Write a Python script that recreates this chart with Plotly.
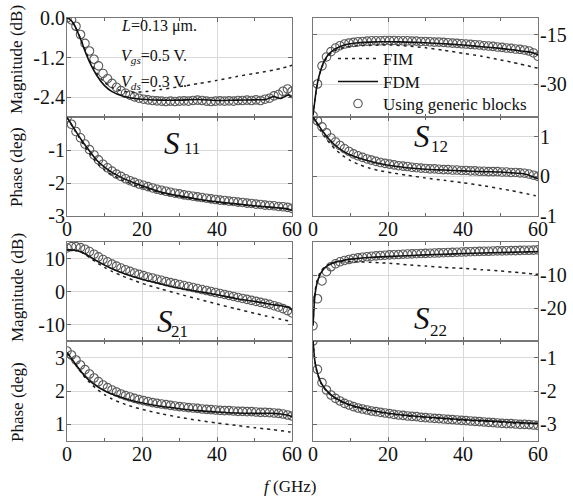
import plotly.graph_objects as go

W, H = 573, 498
FONT = "Liberation Serif"

# ---------------- data ----------------
f_line = [0, 0.5, 1, 2, 3, 4, 5, 6, 8, 10, 12, 15, 18, 21, 25, 30, 35, 40, 45, 50, 53, 55, 57, 59, 60]
f_circ = [0, 1.2, 2.4, 3.6, 4.8, 6, 7.2, 8.4, 9.6, 10.8, 12, 13.2, 14.4, 15.6, 16.8, 18, 19.2, 20.4,
          21.6, 22.8, 24, 25.2, 26.4, 27.6, 28.8, 30, 31.2, 32.4, 33.6, 34.8, 36, 37.2, 38.4, 39.6,
          40.8, 42, 43.2, 44.4, 45.6, 46.8, 48, 49.2, 50.4, 51.6, 52.8, 54, 55.2, 56.4, 57.6, 58.8, 60]

# S11 magnitude (dB)
s11_mag_fdm = [0.0, -0.02, -0.06, -0.22, -0.47, -0.75, -1.06, -1.33, -1.75, -2.05, -2.23, -2.37, -2.44,
               -2.47, -2.49, -2.49, -2.47, -2.5, -2.49, -2.48, -2.47, -2.38, -2.44, -2.33, -2.42]
s11_mag_fim = [0.0, -0.02, -0.06, -0.22, -0.46, -0.73, -1.02, -1.28, -1.68, -1.95, -2.11, -2.22, -2.25,
               -2.23, -2.17, -2.08, -1.99, -1.89, -1.78, -1.68, -1.62, -1.58, -1.53, -1.47, -1.43]
s11_mag_gb = [0.0, -0.06, -0.25, -0.5, -0.77, -1.0, -1.25, -1.45, -1.68, -1.84, -1.98, -2.1, -2.2, -2.28,
              -2.34, -2.39, -2.43, -2.46, -2.48, -2.5, -2.51, -2.52, -2.53, -2.52, -2.53, -2.52, -2.51,
              -2.52, -2.5, -2.49, -2.5, -2.52, -2.53, -2.52, -2.51, -2.52, -2.51, -2.52, -2.5, -2.5,
              -2.49, -2.5, -2.48, -2.5, -2.46, -2.43, -2.36, -2.32, -2.22, -2.15, -2.22]

# S11 phase (deg)
s11_ph_fdm = [-0.02, -0.1, -0.19, -0.37, -0.55, -0.72, -0.88, -1.03, -1.32, -1.52, -1.68, -1.86, -2.0,
              -2.12, -2.27, -2.39, -2.49, -2.57, -2.63, -2.69, -2.72, -2.74, -2.76, -2.79, -2.83]
s11_ph_fim = [-0.02, -0.1, -0.2, -0.39, -0.58, -0.77, -0.94, -1.1, -1.4, -1.6, -1.75, -1.93, -2.06,
              -2.17, -2.3, -2.42, -2.51, -2.59, -2.65, -2.7, -2.73, -2.75, -2.77, -2.8, -2.84]
s11_ph_gb = [-0.02, -0.22, -0.44, -0.63, -0.82, -0.99, -1.15, -1.3, -1.43, -1.54, -1.64, -1.73, -1.8,
             -1.87, -1.93, -1.98, -2.03, -2.07, -2.11, -2.15, -2.19, -2.22, -2.25, -2.28, -2.31, -2.33,
             -2.36, -2.38, -2.4, -2.42, -2.44, -2.46, -2.48, -2.5, -2.52, -2.53, -2.55, -2.56, -2.58,
             -2.59, -2.61, -2.62, -2.64, -2.65, -2.67, -2.68, -2.69, -2.71, -2.72, -2.74, -2.77]

# S12 magnitude (dB)
s12_mag_fdm = [-39.5, -35, -30.8, -26, -23, -21.2, -20.1, -19.3, -18.3, -17.8, -17.5, -17.3, -17.2,
               -17.2, -17.3, -17.5, -17.8, -18.2, -18.7, -19.2, -19.6, -19.9, -20.2, -20.7, -21.2]
s12_mag_fim = [-39.5, -35, -31, -26.2, -23.3, -21.6, -20.5, -19.8, -19.0, -18.6, -18.4, -18.3, -18.2,
               -18.2, -18.5, -19.0, -19.8, -20.7, -21.6, -22.7, -23.4, -23.9, -24.4, -25.0, -25.2]
s12_mag_gb = [-39.6, -30, -24.5, -21.8, -20.2, -19.1, -18.4, -17.9, -17.6, -17.4, -17.2, -17.1, -17.0,
              -16.9, -16.9, -16.9, -16.8, -16.8, -16.8, -16.9, -16.9, -16.9, -17.0, -17.0, -17.1, -17.1,
              -17.2, -17.3, -17.3, -17.4, -17.5, -17.6, -17.7, -17.8, -17.9, -18.0, -18.1, -18.2, -18.4,
              -18.5, -18.6, -18.8, -18.9, -19.1, -19.2, -19.4, -19.5, -19.7, -20.0, -20.6, -21.6]

# S12 phase (deg)
s12_ph_fdm = [1.5, 1.43, 1.36, 1.22, 1.09, 0.97, 0.87, 0.78, 0.64, 0.54, 0.47, 0.39, 0.32, 0.27, 0.22,
              0.18, 0.16, 0.14, 0.12, 0.11, 0.09, 0.08, 0.05, -0.02, -0.06]
s12_ph_fim = [1.5, 1.41, 1.33, 1.17, 1.02, 0.89, 0.78, 0.68, 0.52, 0.4, 0.31, 0.21, 0.14, 0.09, 0.03,
              -0.04, -0.1, -0.16, -0.23, -0.31, -0.36, -0.4, -0.44, -0.48, -0.5]
s12_ph_gb = [1.5, 1.4, 1.25, 1.1, 0.97, 0.87, 0.78, 0.7, 0.63, 0.57, 0.52, 0.48, 0.44, 0.41, 0.38, 0.35,
             0.33, 0.31, 0.29, 0.27, 0.26, 0.25, 0.23, 0.22, 0.21, 0.2, 0.19, 0.19, 0.18, 0.17, 0.17,
             0.16, 0.16, 0.15, 0.15, 0.14, 0.14, 0.13, 0.13, 0.12, 0.12, 0.12, 0.11, 0.11, 0.1, 0.1,
             0.09, 0.08, 0.06, 0.03, 0.0]

# S21 magnitude (dB)
s21_mag_fdm = [12.6, 12.6, 12.6, 12.5, 12.3, 11.9, 11.3, 10.6, 9.2, 8.0, 6.9, 5.5, 4.4, 3.4, 2.3, 1.0,
               0.0, -1.0, -2.1, -3.0, -3.6, -4.0, -4.3, -4.8, -5.6]
s21_mag_fim = [12.6, 12.6, 12.6, 12.5, 12.2, 11.8, 11.1, 10.3, 8.7, 7.3, 6.1, 4.6, 3.3, 2.1, 0.8, -0.8,
               -2.3, -3.8, -5.2, -6.6, -7.4, -7.9, -8.4, -8.9, -9.2]
s21_mag_gb = [13.2, 13.6, 13.6, 13.3, 12.8, 12.1, 11.3, 10.5, 9.7, 9.0, 8.3, 7.7, 7.1, 6.6, 6.1, 5.6, 5.2,
              4.8, 4.4, 4.1, 3.7, 3.4, 3.0, 2.7, 2.4, 2.1, 1.8, 1.5, 1.2, 0.9, 0.6, 0.3, 0.0, -0.3, -0.6,
              -0.9, -1.2, -1.5, -1.8, -2.1, -2.4, -2.7, -3.0, -3.3, -3.6, -3.9, -4.3, -4.7, -5.2, -5.8, -6.5]

# S21 phase (deg)
s21_ph_fdm = [3.15, 3.08, 3.0, 2.85, 2.7, 2.55, 2.42, 2.31, 2.14, 2.01, 1.91, 1.79, 1.69, 1.62, 1.54,
              1.47, 1.41, 1.37, 1.34, 1.33, 1.33, 1.33, 1.31, 1.27, 1.23]
s21_ph_fim = [3.15, 3.07, 2.99, 2.83, 2.67, 2.52, 2.38, 2.26, 2.05, 1.89, 1.76, 1.62, 1.51, 1.42, 1.32,
              1.21, 1.12, 1.04, 0.97, 0.9, 0.86, 0.84, 0.81, 0.78, 0.76]
s21_ph_gb = [3.2, 3.08, 2.93, 2.78, 2.64, 2.51, 2.39, 2.28, 2.18, 2.1, 2.03, 1.97, 1.91, 1.86, 1.82, 1.78,
             1.74, 1.71, 1.68, 1.65, 1.63, 1.61, 1.59, 1.57, 1.55, 1.53, 1.52, 1.5, 1.49, 1.48, 1.46,
             1.45, 1.44, 1.43, 1.42, 1.41, 1.41, 1.4, 1.39, 1.39, 1.38, 1.38, 1.37, 1.36, 1.36, 1.35,
             1.34, 1.33, 1.31, 1.28, 1.25]

# S22 magnitude (dB)
s22_mag_fdm = [-25.4, -16.3, -12.8, -9.6, -8.0, -7.1, -6.5, -6.1, -5.6, -5.2, -4.95, -4.7, -4.5, -4.35,
               -4.15, -3.9, -3.7, -3.5, -3.35, -3.2, -3.1, -3.05, -3.0, -2.95, -2.9]
s22_mag_fim = [-25.0, -15.5, -12.0, -9.0, -7.6, -6.9, -6.5, -6.2, -6.0, -5.95, -6.0, -6.1, -6.3, -6.5,
               -6.9, -7.3, -7.7, -8.0, -8.4, -8.8, -9.1, -9.3, -9.5, -9.7, -9.8]
s22_mag_gb = [-25.4, -17.2, -11.8, -9.0, -7.5, -6.6, -6.0, -5.6, -5.3, -5.0, -4.8, -4.6, -4.45, -4.3,
              -4.2, -4.1, -4.0, -3.9, -3.85, -3.8, -3.7, -3.65, -3.6, -3.55, -3.5, -3.45, -3.4, -3.35,
              -3.3, -3.25, -3.2, -3.15, -3.1, -3.05, -3.0, -2.95, -2.9, -2.85, -2.8, -2.8, -2.75, -2.7,
              -2.7, -2.65, -2.6, -2.6, -2.55, -2.5, -2.5, -2.45, -2.4]

# S22 phase (deg)
s22_ph_fdm = [-0.5, -1.1, -1.38, -1.72, -1.9, -2.03, -2.13, -2.21, -2.33, -2.42, -2.49, -2.57, -2.63,
              -2.68, -2.73, -2.78, -2.82, -2.86, -2.89, -2.92, -2.94, -2.95, -2.96, -2.97, -2.98]
s22_ph_fim = [-0.5, -1.12, -1.4, -1.74, -1.92, -2.05, -2.15, -2.23, -2.35, -2.44, -2.51, -2.59, -2.65,
              -2.7, -2.75, -2.8, -2.84, -2.88, -2.91, -2.94, -2.96, -2.97, -2.98, -2.99, -3.0]
s22_ph_gb = [-0.5, -1.35, -1.75, -1.97, -2.12, -2.22, -2.3, -2.37, -2.42, -2.47, -2.51, -2.54, -2.57,
             -2.6, -2.62, -2.64, -2.66, -2.68, -2.7, -2.72, -2.73, -2.75, -2.76, -2.77, -2.79, -2.8,
             -2.81, -2.82, -2.83, -2.84, -2.85, -2.86, -2.87, -2.88, -2.89, -2.9, -2.91, -2.92, -2.93,
             -2.94, -2.95, -2.96, -2.97, -2.98, -2.98, -2.99, -3.0, -3.0, -3.01, -3.02, -3.03]

x_ticks = [0, 20, 40, 60]
panels = [
    # (fdm, fim, gb, y range, y ticks, tick labels, column, row-part)
    (s11_mag_fdm, s11_mag_fim, s11_mag_gb, [-3, 0], [0, -1.2, -2.4], ["0.0", "-1.2", "-2.4"], 0, 0),
    (s11_ph_fdm, s11_ph_fim, s11_ph_gb, [-3, 0], [-1, -2, -3], ["-1", "-2", "-3"], 0, 1),
    (s12_mag_fdm, s12_mag_fim, s12_mag_gb, [-40, -10], [-15, -30], ["-15", "-30"], 1, 0),
    (s12_ph_fdm, s12_ph_fim, s12_ph_gb, [-1, 1.5], [1, 0, -1], ["1", "0", "-1"], 1, 1),
    (s21_mag_fdm, s21_mag_fim, s21_mag_gb, [-15, 15], [10, 0, -10], ["10", "0", "-10"], 0, 2),
    (s21_ph_fdm, s21_ph_fim, s21_ph_gb, [0.5, 3.5], [3, 2, 1], ["3", "2", "1"], 0, 3),
    (s22_mag_fdm, s22_mag_fim, s22_mag_gb, [-30, 0], [-10, -20], ["-10", "-20"], 1, 2),
    (s22_ph_fdm, s22_ph_fim, s22_ph_gb, [-3.5, -0.5], [-1, -2, -3], ["-1", "-2", "-3"], 1, 3),
]

# ---------------- layout geometry (pixels) ----------------
col_px = [(67, 292), (313, 538)]
row_px = [(18, 117), (117, 216), (242, 341), (341, 441)]


def px_x(p):
    return p / W


def px_y(p):
    return 1 - p / H


def legend_box(ypx):
    return dict(x=px_x(333), y=px_y(ypx), xanchor="left", yanchor="middle",
                bgcolor="rgba(0,0,0,0)", borderwidth=0,
                font=dict(size=17, family=FONT, color="#111"), itemwidth=40)


fig = go.Figure()
layout = dict(
    template="none",
    width=W, height=H,
    margin=dict(l=0, r=0, t=0, b=0, pad=0),
    paper_bgcolor="white", plot_bgcolor="white",
    font=dict(family=FONT, size=20, color="#111"),
    showlegend=True,
    legend=legend_box(59),
    legend2=legend_box(82),
    legend3=legend_box(104),
)

for i, (fdm, fim, gb, yr, yt, ytl, col, row) in enumerate(panels):
    n = i + 1
    xa = "x" if n == 1 else f"x{n}"
    ya = "y" if n == 1 else f"y{n}"
    first = i == 0
    fig.add_trace(go.Scatter(x=f_circ, y=gb, mode="markers", xaxis=xa, yaxis=ya,
                             name="Using generic blocks", legend="legend3", showlegend=first,
                             marker=dict(symbol="circle-open", size=8.5, color="#5a5a5a",
                                         line=dict(width=1.1))))
    fig.add_trace(go.Scatter(x=f_line, y=fim, mode="lines", xaxis=xa, yaxis=ya,
                             name="FIM", legend="legend", showlegend=first,
                             line=dict(color="#222", width=1.5, dash="3px,4px", shape="spline",
                                       smoothing=0.6)))
    fig.add_trace(go.Scatter(x=f_line, y=fdm, mode="lines", xaxis=xa, yaxis=ya,
                             name="FDM", legend="legend2", showlegend=first,
                             line=dict(color="#111", width=1.6, shape="spline", smoothing=0.6)))

    x0, x1 = col_px[col]
    y0, y1 = row_px[row]
    phase = row in (1, 3)
    xkey = "xaxis" if n == 1 else f"xaxis{n}"
    ykey = "yaxis" if n == 1 else f"yaxis{n}"
    layout[xkey] = dict(
        domain=[px_x(x0), px_x(x1)], anchor=ya, range=[0, 60], automargin=False,
        tickmode="array", tickvals=x_ticks, ticktext=[str(v) for v in x_ticks],
        showticklabels=phase, ticks="inside", ticklen=4, tickcolor="#666",
        showline=True, linecolor="#777", linewidth=1, mirror="ticks",
        showgrid=True, gridcolor="#d9d9d9", gridwidth=1, zeroline=False,
        minor=dict(tickvals=[10, 30, 50], ticks="inside", ticklen=3, tickcolor="#666"),
        tickfont=dict(size=20, family=FONT, color="#111"), ticklabelstandoff=-5,
    )
    layout[ykey] = dict(
        domain=[px_y(y1), px_y(y0)], anchor=xa, range=yr, automargin=False,
        side="left" if col == 0 else "right",
        tickmode="array", tickvals=yt, ticktext=ytl,
        ticks="inside", ticklen=4, tickcolor="#666",
        showline=True, linecolor="#777", linewidth=1, mirror="ticks",
        showgrid=True, gridcolor="#d9d9d9", gridwidth=1, zeroline=False,
        tickfont=dict(size=20, family=FONT, color="#111"), ticklabelstandoff=-3,
    )

annotations = []


def ann(text, x, y, size, angle=0, xanchor="center", yanchor="middle"):
    annotations.append(dict(text=text, x=px_x(x), y=px_y(y), xref="paper", yref="paper",
                            showarrow=False, textangle=angle, xanchor=xanchor, yanchor=yanchor,
                            borderpad=0,
                            font=dict(size=size, family=FONT, color="#111")))


ann("Magnitude (dB)", 17, 60, 17, -90)
ann("Phase (deg)", 17, 167, 17, -90)
ann("Magnitude (dB)", 17, 288, 17, -90)
ann("Phase (deg)", 17, 402, 17, -90)
ann("<i>f</i> (GHz)", 290, 486, 17)

for s, sx, sy, sub, bx, by in [("S", 172, 143, "11", 192, 149),
                               ("S", 422, 136, "12", 439, 146),
                               ("S", 165, 321, "21", 179, 331),
                               ("S", 422, 318, "22", 438, 330)]:
    ann(f"<i>{s}</i>", sx, sy, 31)
    ann(sub, bx, by, 17)

ann("<i>L</i>=0.13 μm.", 120, 26, 16, xanchor="left")
ann("<i>V</i><sub><i>gs</i></sub>=0.5 V.", 120, 57, 16, xanchor="left")
ann("<i>V</i><sub><i>ds</i></sub>=0.3 V.", 120, 82, 16, xanchor="left")

layout["annotations"] = annotations
fig.update_layout(**layout)
fig.write_html("out.html")
